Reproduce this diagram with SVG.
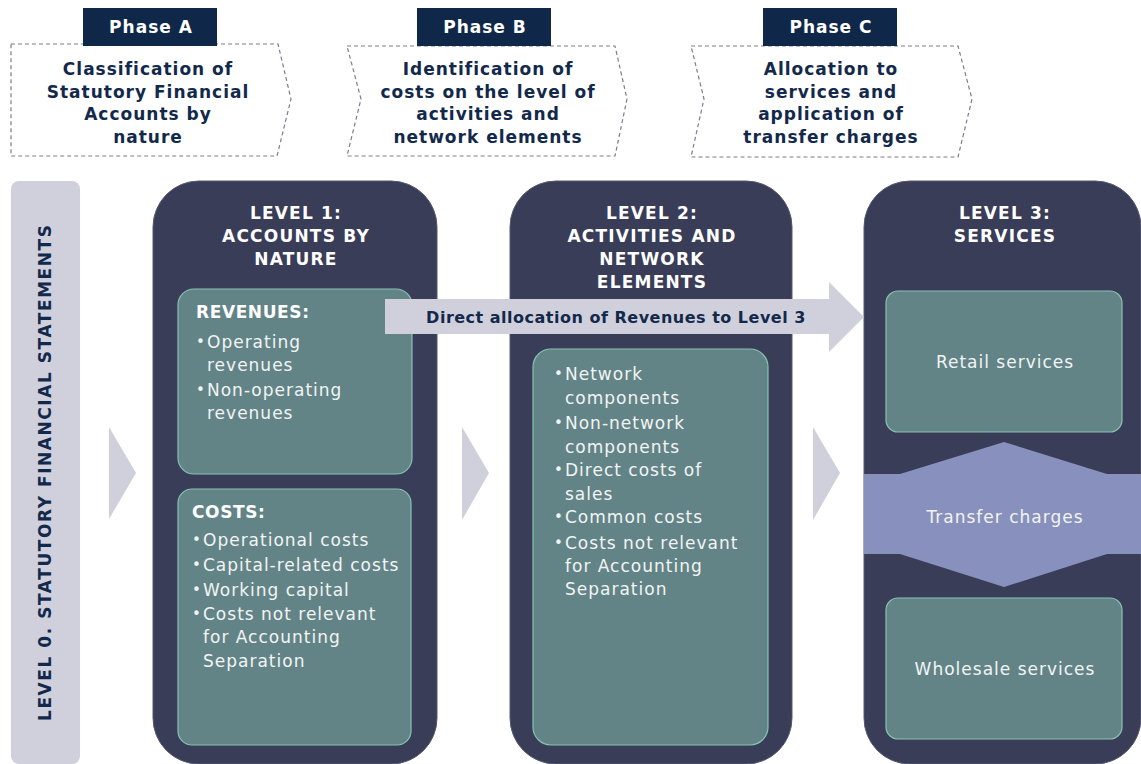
<svg xmlns="http://www.w3.org/2000/svg" width="1141" height="764" viewBox="0 0 1141 764">
<style>
.tab{fill:#0f2849}
.tabt{font-family:"DejaVu Sans",Verdana,sans-serif;font-weight:bold;font-size:17px;letter-spacing:1px;fill:#ffffff;text-anchor:middle}
.ph{fill:#ffffff;stroke:#7c7c92;stroke-width:1.2;stroke-dasharray:4 3}
.pht{font-family:"DejaVu Sans",Verdana,sans-serif;font-weight:bold;font-size:17px;letter-spacing:1px;fill:#13294b;text-anchor:middle}
.lvl{fill:#3a3d58;stroke:#55586f;stroke-width:1}
.lvt{font-family:"DejaVu Sans",Verdana,sans-serif;font-weight:bold;font-size:17px;letter-spacing:1.2px;fill:#ffffff;text-anchor:middle}
.in{fill:#628487;stroke:#88c2b1;stroke-width:1.2}
.hd{font-family:"DejaVu Sans",Verdana,sans-serif;font-weight:bold;font-size:17px;letter-spacing:0.6px;fill:#ffffff}
.bt{font-family:"DejaVu Sans",Verdana,sans-serif;font-size:17px;letter-spacing:1px;fill:#f2f4f4}
.bu{font-family:"DejaVu Sans",Verdana,sans-serif;font-size:15px;fill:#f2f4f4}
.ct{font-family:"DejaVu Sans",Verdana,sans-serif;font-size:17px;letter-spacing:1px;fill:#f2f4f4;text-anchor:middle}
.gray{fill:#d0d0dc}
</style>

<g id="phaseA">
<path class="ph" d="M11 44 H278 L291 99 L277 156 H11 Z"/>
<rect class="tab" x="83" y="8" width="134" height="38"/>
<text class="tabt" x="151" y="33">Phase A</text>
<text class="pht" x="148" y="75">Classification of</text>
<text class="pht" x="148" y="98">Statutory Financial</text>
<text class="pht" x="148" y="120">Accounts by</text>
<text class="pht" x="148" y="143">nature</text>
</g>

<g id="phaseB">
<path class="ph" d="M347 46 H615 L627 99 L615 156 H347 L361 99 Z"/>
<rect class="tab" x="417" y="8" width="134" height="38"/>
<text class="tabt" x="485" y="33">Phase B</text>
<text class="pht" x="488" y="75">Identification of</text>
<text class="pht" x="488" y="98">costs on the level of</text>
<text class="pht" x="488" y="120">activities and</text>
<text class="pht" x="488" y="143">network elements</text>
</g>

<g id="phaseC">
<path class="ph" d="M691 46 H958 L972 99 L958 157 H691 L704 99 Z"/>
<rect class="tab" x="763" y="8" width="134" height="38"/>
<text class="tabt" x="831" y="33">Phase C</text>
<text class="pht" x="831" y="75">Allocation to</text>
<text class="pht" x="831" y="98">services and</text>
<text class="pht" x="831" y="120">application of</text>
<text class="pht" x="831" y="143">transfer charges</text>
</g>

<g id="level0">
<rect class="gray" x="11" y="181" width="69" height="583" rx="8"/>
<text transform="translate(51 473) rotate(-90)" text-anchor="middle" font-family="DejaVu Sans, Verdana, sans-serif" font-weight="bold" font-size="17" fill="#13294b" textLength="496" lengthAdjust="spacing">LEVEL 0. STATUTORY  FINANCIAL  STATEMENTS</text>
</g>

<g id="connectors">
<path class="gray" d="M109 427 L136 473 L109 519 Z"/>
<path class="gray" d="M462 427 L489 473 L462 520 Z"/>
<path class="gray" d="M813 427 L840 473 L813 520 Z"/>
</g>

<g id="level1">
<rect class="lvl" x="153" y="181" width="284" height="583" rx="46"/>
<text class="lvt" x="296" y="219">LEVEL 1:</text>
<text class="lvt" x="296" y="242">ACCOUNTS BY</text>
<text class="lvt" x="296" y="265">NATURE</text>
</g>

<g id="revenues">
<rect class="in" x="178" y="289" width="234" height="185" rx="16"/>
<text class="hd" x="196" y="318">REVENUES:</text>
<text class="bu" x="196" y="347">•</text><text class="bt" x="207" y="348">Operating</text>
<text class="bt" x="207" y="371">revenues</text>
<text class="bu" x="196" y="395">•</text><text class="bt" x="207" y="396">Non-operating</text>
<text class="bt" x="207" y="419">revenues</text>
</g>

<g id="costs">
<rect class="in" x="178" y="489" width="233" height="256" rx="14"/>
<text class="hd" x="192" y="518">COSTS:</text>
<text class="bu" x="192" y="545">•</text><text class="bt" x="203" y="546">Operational costs</text>
<text class="bu" x="192" y="570">•</text><text class="bt" x="203" y="571">Capital-related costs</text>
<text class="bu" x="192" y="595">•</text><text class="bt" x="203" y="596">Working capital</text>
<text class="bu" x="192" y="619">•</text><text class="bt" x="203" y="620">Costs not relevant</text>
<text class="bt" x="203" y="643">for Accounting</text>
<text class="bt" x="203" y="667">Separation</text>
</g>

<g id="level2">
<rect class="lvl" x="510" y="181" width="282" height="583" rx="46"/>
<text class="lvt" x="652" y="219">LEVEL 2:</text>
<text class="lvt" x="652" y="242">ACTIVITIES AND</text>
<text class="lvt" x="652" y="265">NETWORK</text>
<text class="lvt" x="652" y="288">ELEMENTS</text>
<rect class="in" x="533" y="349" width="235" height="396" rx="18"/>
<text class="bu" x="554" y="379">•</text><text class="bt" x="565" y="380">Network</text>
<text class="bt" x="565" y="404">components</text>
<text class="bu" x="554" y="428">•</text><text class="bt" x="565" y="429">Non-network</text>
<text class="bt" x="565" y="453">components</text>
<text class="bu" x="554" y="475">•</text><text class="bt" x="565" y="476">Direct costs of</text>
<text class="bt" x="565" y="500">sales</text>
<text class="bu" x="554" y="522">•</text><text class="bt" x="565" y="523">Common costs</text>
<text class="bu" x="554" y="548">•</text><text class="bt" x="565" y="549">Costs not relevant</text>
<text class="bt" x="565" y="572">for Accounting</text>
<text class="bt" x="565" y="595">Separation</text>
</g>

<g id="level3">
<rect class="lvl" x="864" y="181" width="277" height="583" rx="46"/>
<text class="lvt" x="1005" y="219">LEVEL 3:</text>
<text class="lvt" x="1005" y="242">SERVICES</text>
</g>

<g id="retail">
<rect class="in" x="886" y="291" width="236" height="141" rx="12"/>
<text class="ct" x="1005" y="368">Retail services</text>
</g>

<g id="transfer">
<path d="M864 474 H900 L1004 442 L1107 474 H1141 V554 H1107 L1004 587 L900 554 H864 Z" fill="#8890bd"/>
<text class="ct" x="1005" y="523" fill="#eef0f6">Transfer charges</text>
</g>

<g id="wholesale">
<rect class="in" x="886" y="598" width="236" height="141" rx="12"/>
<text class="ct" x="1005" y="675">Wholesale services</text>
</g>

<g id="direct">
<path d="M385 299 H829 V282 L864 317 L829 352 V334 H385 Z" fill="#d0d0dc"/>
<text x="616" y="323" text-anchor="middle" font-family="DejaVu Sans, Verdana, sans-serif" font-weight="bold" font-size="16" letter-spacing="0.5" fill="#13294b">Direct allocation of Revenues to Level 3</text>
</g>
</svg>
